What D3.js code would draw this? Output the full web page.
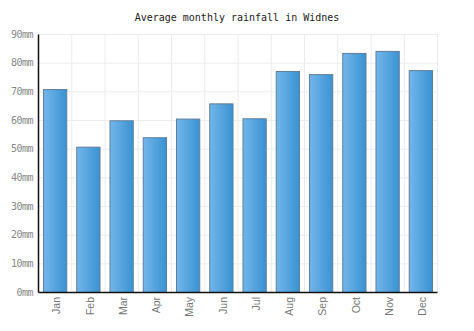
<!DOCTYPE html>
<html><head><meta charset="utf-8">
<script src="https://cdn.jsdelivr.net/npm/d3@7"></script>
<style>body{margin:0;background:#fff;}</style>
</head><body>
<svg id="c" width="474" height="331"></svg>
<script>
const months = ["Jan","Feb","Mar","Apr","May","Jun","Jul","Aug","Sep","Oct","Nov","Dec"];
const rainfall = [70.8, 50.7, 59.9, 54.0, 60.5, 65.8, 60.6, 77.1, 76.0, 83.4, 84.1, 77.4];
const yTicks = [0,10,20,30,40,50,60,70,80,90];
const title = "Average monthly rainfall in Widnes";

const svg = d3.select("#c");
const m = {l:38, r:37, t:34, b:39};
const W = 474, H = 331;
const x = d3.scaleBand().domain(months).range([m.l, W-m.r]).paddingInner(0.3).paddingOuter(0.15);
const xg = d3.scaleBand().domain(months).range([m.l, W-m.r]);
const y = d3.scaleLinear().domain([0,90]).range([H-m.b, m.t]);

const defs = svg.append("defs");
const g = defs.append("linearGradient").attr("id","bg").attr("x1","0").attr("x2","1").attr("y1","0").attr("y2","0");
g.append("stop").attr("offset","0%").attr("stop-color","#72b6ea");
g.append("stop").attr("offset","100%").attr("stop-color","#3a92d2");

// grid
svg.append("g").selectAll("line").data(yTicks).join("line")
  .attr("x1", m.l).attr("x2", W-m.r).attr("y1", d=>y(d)+0.5).attr("y2", d=>y(d)+0.5)
  .attr("stroke","#ececec").attr("stroke-width",1);
svg.append("g").selectAll("line").data(months).join("line")
  .attr("x1", d=>xg(d)+xg.bandwidth()+0.5).attr("x2", d=>xg(d)+xg.bandwidth()+0.5)
  .attr("y1", m.t).attr("y2", H-m.b)
  .attr("stroke","#ececec").attr("stroke-width",1);

// bars
svg.append("g").selectAll("rect").data(months).join("rect")
  .attr("x", d=>x(d)+0.5).attr("width", x.bandwidth())
  .attr("y", (d,i)=>y(rainfall[i])+0.5).attr("height", (d,i)=>y(0)-y(rainfall[i]))
  .attr("fill","url(#bg)").attr("stroke","#5f7f9c").attr("stroke-width",1);

// axes
const yAxis = d3.axisLeft(y).tickValues(yTicks).tickFormat(d=>d+"mm").tickSize(0);
const ya = svg.append("g").attr("transform",`translate(${m.l},0)`).call(yAxis);
ya.select(".domain").attr("stroke","#111").attr("stroke-width",1.5);
ya.selectAll("text").attr("fill","#888").attr("font-family","DejaVu Sans Mono").attr("font-size","10px").attr("x",-5).attr("letter-spacing","-0.5px");

const xAxis = d3.axisBottom(xg).tickSize(0);
const xa = svg.append("g").attr("transform",`translate(0,${H-m.b})`).call(xAxis);
xa.select(".domain").attr("stroke","#111").attr("stroke-width",1.5);
xa.selectAll("text").attr("fill","#777").attr("font-family","Liberation Sans, Arial, sans-serif").attr("font-size","10.5px")
  .attr("transform","rotate(-90)").attr("text-anchor","end").attr("x",-5).attr("y",0).attr("dy","0.55em").attr("dx",0);
xa.selectAll(".tick").attr("transform", d=>`translate(${xg(d)+xg.bandwidth()/2},0)`);

svg.append("text").attr("x", 237).attr("y", 21).attr("text-anchor","middle")
  .attr("font-family","DejaVu Sans Mono").attr("font-size","10px").attr("fill","#222").text(title);
</script>
</body></html>
